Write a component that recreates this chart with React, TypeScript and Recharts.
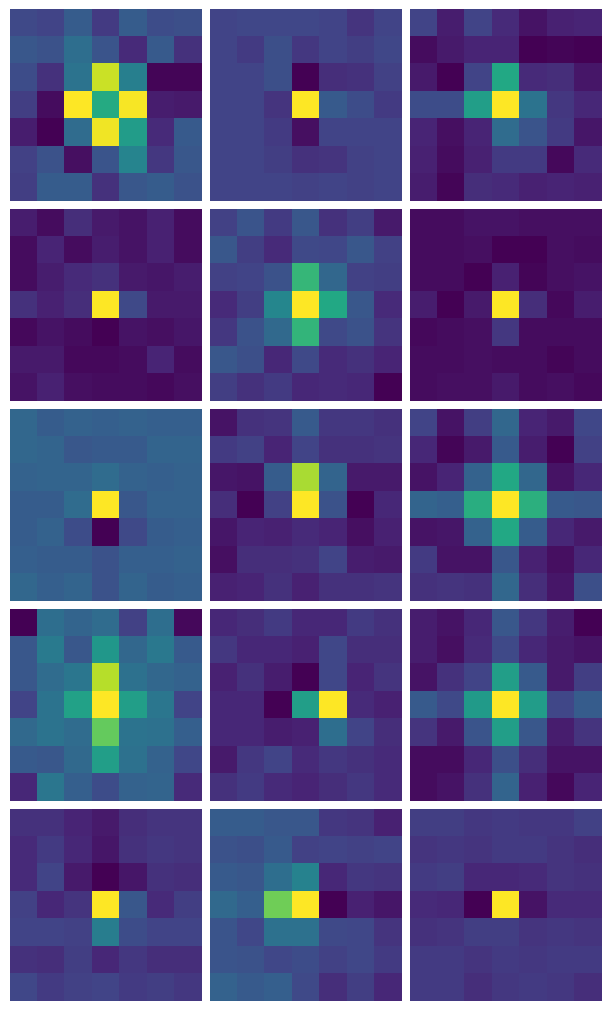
import { Bar, BarChart, Cell, XAxis, YAxis } from "recharts";

// Each panel is a 7x7 grid of normalised intensities (0 to 1), top row first.
const panel1 = [
  [0.22, 0.2, 0.29, 0.17, 0.29, 0.23, 0.24],
  [0.27, 0.25, 0.36, 0.26, 0.12, 0.28, 0.14],
  [0.23, 0.14, 0.38, 0.92, 0.43, 0.01, 0.01],
  [0.18, 0.03, 1, 0.61, 0.99, 0.08, 0.07],
  [0.08, 0, 0.35, 0.98, 0.55, 0.12, 0.28],
  [0.19, 0.25, 0.04, 0.26, 0.45, 0.16, 0.27],
  [0.18, 0.29, 0.29, 0.14, 0.27, 0.29, 0.25],
];
const panel2 = [
  [0.2, 0.21, 0.21, 0.21, 0.2, 0.15, 0.2],
  [0.2, 0.17, 0.24, 0.16, 0.2, 0.18, 0.21],
  [0.2, 0.2, 0.24, 0, 0.13, 0.14, 0.19],
  [0.2, 0.2, 0.15, 1, 0.28, 0.23, 0.17],
  [0.2, 0.2, 0.17, 0.04, 0.2, 0.2, 0.2],
  [0.2, 0.2, 0.18, 0.14, 0.15, 0.19, 0.2],
  [0.2, 0.2, 0.2, 0.19, 0.2, 0.19, 0.2],
];
const panel3 = [
  [0.2, 0.08, 0.2, 0.12, 0.05, 0.09, 0.1],
  [0.03, 0.07, 0.1, 0.1, 0, 0.01, 0],
  [0.07, 0, 0.2, 0.6, 0.12, 0.13, 0.06],
  [0.23, 0.23, 0.56, 1, 0.38, 0.16, 0.11],
  [0.1, 0.04, 0.1, 0.35, 0.26, 0.17, 0.06],
  [0.09, 0.03, 0.09, 0.17, 0.17, 0.02, 0.12],
  [0.08, 0.01, 0.13, 0.12, 0.09, 0.1, 0.09],
];
const panel4 = [
  [0.08, 0.03, 0.13, 0.07, 0.05, 0.09, 0.03],
  [0.03, 0.1, 0.03, 0.08, 0.05, 0.09, 0.03],
  [0.03, 0.08, 0.12, 0.14, 0.07, 0.06, 0.08],
  [0.14, 0.09, 0.13, 1, 0.22, 0.07, 0.07],
  [0.02, 0.05, 0.03, 0, 0.05, 0.04, 0.06],
  [0.07, 0.07, 0.02, 0.02, 0.03, 0.1, 0.03],
  [0.05, 0.09, 0.04, 0.03, 0.03, 0.02, 0.04],
];
const panel5 = [
  [0.19, 0.26, 0.17, 0.27, 0.14, 0.18, 0.07],
  [0.27, 0.18, 0.12, 0.22, 0.21, 0.27, 0.19],
  [0.19, 0.2, 0.25, 0.66, 0.33, 0.19, 0.18],
  [0.12, 0.18, 0.46, 1, 0.6, 0.27, 0.12],
  [0.16, 0.25, 0.34, 0.65, 0.22, 0.25, 0.15],
  [0.27, 0.24, 0.11, 0.22, 0.12, 0.14, 0.1],
  [0.18, 0.14, 0.17, 0.11, 0.12, 0.11, 0],
];
const panel6 = [
  [0.03, 0.03, 0.05, 0.05, 0.04, 0.04, 0.04],
  [0.03, 0.03, 0.04, 0, 0, 0.04, 0.03],
  [0.03, 0.03, 0, 0.09, 0.01, 0.04, 0.05],
  [0.08, 0, 0.07, 1, 0.13, 0.02, 0.08],
  [0.02, 0.03, 0.04, 0.16, 0.03, 0.03, 0.03],
  [0.03, 0.03, 0.04, 0.03, 0.03, 0.01, 0.03],
  [0.03, 0.04, 0.04, 0.07, 0.03, 0.04, 0.02],
];
const panel7 = [
  [0.33, 0.29, 0.31, 0.3, 0.31, 0.3, 0.3],
  [0.33, 0.32, 0.27, 0.28, 0.28, 0.32, 0.32],
  [0.31, 0.32, 0.32, 0.35, 0.31, 0.3, 0.31],
  [0.29, 0.29, 0.35, 1, 0.27, 0.31, 0.31],
  [0.29, 0.31, 0.23, 0, 0.22, 0.29, 0.3],
  [0.3, 0.29, 0.29, 0.25, 0.3, 0.3, 0.31],
  [0.33, 0.3, 0.32, 0.25, 0.32, 0.29, 0.3],
];
const panel8 = [
  [0.05, 0.14, 0.15, 0.28, 0.16, 0.16, 0.14],
  [0.17, 0.19, 0.1, 0.2, 0.14, 0.14, 0.15],
  [0.06, 0.05, 0.29, 0.87, 0.32, 0.07, 0.07],
  [0.13, 0, 0.19, 1, 0.25, 0, 0.11],
  [0.06, 0.1, 0.09, 0.12, 0.1, 0.04, 0.09],
  [0.04, 0.13, 0.13, 0.14, 0.2, 0.08, 0.07],
  [0.09, 0.1, 0.14, 0.09, 0.14, 0.14, 0.15],
];
const panel9 = [
  [0.2, 0.05, 0.18, 0.33, 0.1, 0.07, 0.21],
  [0.11, 0.01, 0.07, 0.28, 0.08, 0, 0.19],
  [0.05, 0.1, 0.31, 0.6, 0.33, 0.05, 0.11],
  [0.32, 0.3, 0.62, 1, 0.63, 0.28, 0.27],
  [0.05, 0.06, 0.31, 0.6, 0.29, 0.11, 0.07],
  [0.17, 0.05, 0.05, 0.27, 0.09, 0.04, 0.11],
  [0.14, 0.15, 0.14, 0.33, 0.13, 0.06, 0.24],
];
const panel10 = [
  [0, 0.36, 0.32, 0.35, 0.19, 0.36, 0.02],
  [0.27, 0.41, 0.27, 0.53, 0.33, 0.4, 0.28],
  [0.27, 0.35, 0.39, 0.89, 0.37, 0.33, 0.31],
  [0.2, 0.38, 0.57, 1, 0.56, 0.39, 0.2],
  [0.34, 0.38, 0.35, 0.76, 0.38, 0.37, 0.3],
  [0.28, 0.27, 0.34, 0.56, 0.37, 0.31, 0.21],
  [0.11, 0.39, 0.3, 0.23, 0.31, 0.32, 0.12],
];
const panel11 = [
  [0.11, 0.13, 0.17, 0.11, 0.11, 0.17, 0.14],
  [0.16, 0.11, 0.11, 0.09, 0.21, 0.13, 0.13],
  [0.09, 0.14, 0.08, 0, 0.21, 0.1, 0.15],
  [0.11, 0.11, 0, 0.56, 1, 0.12, 0.09],
  [0.11, 0.11, 0.08, 0.09, 0.36, 0.2, 0.13],
  [0.07, 0.16, 0.2, 0.12, 0.16, 0.14, 0.12],
  [0.14, 0.17, 0.12, 0.1, 0.13, 0.16, 0.12],
];
const panel12 = [
  [0.08, 0.05, 0.11, 0.27, 0.16, 0.08, 0],
  [0.08, 0.04, 0.12, 0.22, 0.11, 0.07, 0.05],
  [0.05, 0.14, 0.2, 0.56, 0.28, 0.07, 0.18],
  [0.28, 0.22, 0.54, 1, 0.55, 0.21, 0.29],
  [0.15, 0.07, 0.26, 0.56, 0.27, 0.08, 0.15],
  [0.03, 0.03, 0.11, 0.24, 0.13, 0.05, 0.05],
  [0.03, 0.05, 0.14, 0.32, 0.09, 0.02, 0.1],
];
const panel13 = [
  [0.14, 0.14, 0.1, 0.07, 0.13, 0.15, 0.15],
  [0.12, 0.17, 0.11, 0.06, 0.14, 0.16, 0.15],
  [0.12, 0.2, 0.07, 0, 0.06, 0.14, 0.13],
  [0.19, 0.11, 0.15, 1, 0.27, 0.12, 0.18],
  [0.2, 0.2, 0.19, 0.42, 0.23, 0.2, 0.2],
  [0.14, 0.13, 0.18, 0.11, 0.16, 0.13, 0.13],
  [0.21, 0.17, 0.19, 0.2, 0.17, 0.18, 0.16],
];
const panel14 = [
  [0.29, 0.29, 0.27, 0.27, 0.16, 0.15, 0.09],
  [0.25, 0.24, 0.28, 0.19, 0.2, 0.19, 0.2],
  [0.28, 0.27, 0.36, 0.44, 0.11, 0.16, 0.15],
  [0.34, 0.3, 0.78, 1, 0, 0.09, 0.06],
  [0.26, 0.21, 0.37, 0.37, 0.22, 0.21, 0.15],
  [0.26, 0.25, 0.21, 0.23, 0.19, 0.21, 0.17],
  [0.31, 0.28, 0.3, 0.22, 0.13, 0.18, 0.11],
];
const panel15 = [
  [0.18, 0.18, 0.16, 0.17, 0.16, 0.16, 0.19],
  [0.15, 0.16, 0.15, 0.17, 0.17, 0.15, 0.13],
  [0.17, 0.18, 0.11, 0.11, 0.12, 0.15, 0.14],
  [0.12, 0.11, 0, 1, 0.05, 0.12, 0.12],
  [0.14, 0.15, 0.18, 0.18, 0.15, 0.16, 0.15],
  [0.17, 0.17, 0.15, 0.17, 0.16, 0.17, 0.17],
  [0.17, 0.17, 0.13, 0.16, 0.17, 0.16, 0.13],
];

const panels = [
  panel1, panel2, panel3, panel4, panel5,
  panel6, panel7, panel8, panel9, panel10,
  panel11, panel12, panel13, panel14, panel15,
];

const rowIndexes = [0, 1, 2, 3, 4, 5, 6];
const columnIndexes = [0, 1, 2, 3, 4, 5, 6];

const viridis = [
  [68, 1, 84],
  [72, 36, 117],
  [65, 68, 135],
  [53, 95, 141],
  [42, 120, 142],
  [33, 144, 141],
  [34, 168, 132],
  [68, 191, 112],
  [122, 209, 81],
  [189, 223, 38],
  [253, 231, 37],
];

const colorFor = (value: number) => {
  const pos = value * (viridis.length - 1);
  const low = Math.min(Math.floor(pos), viridis.length - 2);
  const t = pos - low;
  const [r, g, b] = viridis[low].map((c, i) => Math.round(c + (viridis[low + 1][i] - c) * t));
  return `rgb(${r},${g},${b})`;
};

// every cell is one unit tall, the colour carries the value
const toChartData = () =>
  columnIndexes.map((column) => {
    const entry: Record<string, number> = { column };
    rowIndexes.forEach((row) => {
      entry[`row${row}`] = 1;
    });
    return entry;
  });

const Heatmap = ({ grid }: { grid: number[][] }) => (
  <BarChart
    width={192}
    height={192}
    data={toChartData()}
    margin={{ top: 0, right: 0, bottom: 0, left: 0 }}
    barCategoryGap={0}
    barGap={0}
    style={{ shapeRendering: "crispEdges" }}
  >
    <XAxis dataKey="column" type="category" hide />
    <YAxis type="number" domain={[0, 7]} reversed hide />
    {rowIndexes.map((row) => (
      <Bar key={row} dataKey={`row${row}`} stackId="grid" isAnimationActive={false}>
        {columnIndexes.map((column) => {
          const fill = colorFor(grid[row][column]);
          // same-colour stroke closes the hairline seams between columns
          return <Cell key={column} fill={fill} stroke={fill} strokeWidth={1} />;
        })}
      </Bar>
    ))}
  </BarChart>
);

export default function App() {
  return (
    <div
      style={{
        display: "grid",
        gridTemplateColumns: "192px 192px 192px",
        columnGap: 8,
        rowGap: 8,
        paddingLeft: 2,
        paddingTop: 1,
        width: 592,
      }}
    >
      {panels.map((grid, i) => (
        <Heatmap key={i} grid={grid} />
      ))}
    </div>
  );
}
